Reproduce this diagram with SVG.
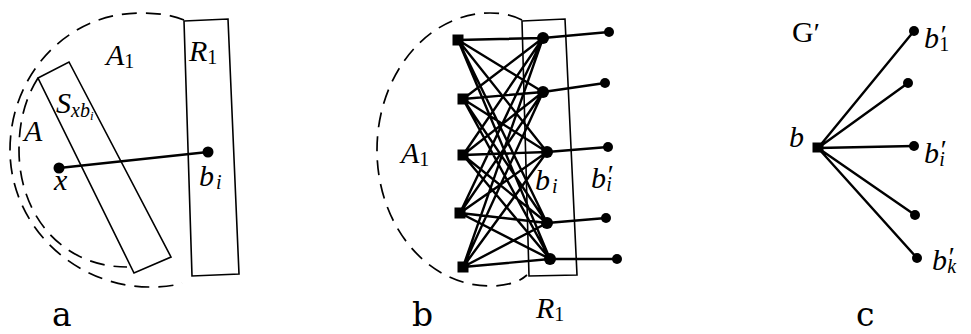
<svg xmlns="http://www.w3.org/2000/svg" width="971" height="334" viewBox="0 0 971 334">
<style>
.dash{fill:none;stroke:#000;stroke-width:1.7;stroke-dasharray:15 9}
.box{fill:none;stroke:#000;stroke-width:1.6}
.e{stroke:#000;stroke-width:2.4;fill:none}
.dot{fill:#000}
.m{font-family:"Liberation Serif",serif;font-style:italic;font-size:30px;fill:#000}
.up{font-style:normal}
.sub{font-size:20px}
.pr{font-size:28px}
.lab{font-family:"DejaVu Serif","Liberation Serif",serif;font-size:33px;fill:#000}
</style>
<rect width="971" height="334" fill="#fff"/>
<!-- panel a -->
<g id="panel-a">
<path class="dash" d="M184,20 C172,15 157,13 140,13 C68,13 10,74 10,150 C10,226 75,287 150,287 C163,287 173,286 182,283"/>
<path class="dash" d="M38,78 C26,97 19,120 19,150 C19,215 62,267 127,267"/>
<polygon id="S" class="box" points="38,78 69,62 171,257 134,273"/>
<polygon id="R1a" class="box" points="184,21 228,19 239,274 192,276"/>
<g id="conn-a"><line class="e" x1="59" y1="168" x2="208" y2="152"/></g>
<g id="node-x"><circle class="dot" cx="59" cy="168" r="5.5"/><text class="m" x="54" y="190">x</text></g>
<g id="node-bi-a"><circle class="dot" cx="208" cy="152" r="5.5"/><text class="m" x="199" y="186">b<tspan class="sub" dx="2" dy="3">i</tspan></text></g>
<text class="m" x="106" y="65">A<tspan class="sub up" dy="3">1</tspan></text>
<text class="m" x="24" y="141">A</text>
<text class="m" x="56" y="113">S<tspan class="sub" dy="4">xb</tspan><tspan font-size="13px" dy="3">i</tspan></text>
<text class="m" x="189" y="61">R<tspan class="sub up" dy="3">1</tspan></text>
<text class="lab" x="52" y="326">a</text>
</g>
<!-- panel b -->
<g id="panel-b">
<path class="dash" d="M522,20 C512,15 502,13 490,13 C428,13 377,74 377,150 C377,226 428,286 490,286 C505,286 518,283 527,275"/>
<polygon id="R1b" class="box" points="522,21 565,19 577,275 529,276"/>
<g id="connectors-b">
<path class="e" d="M458,40L543,38M458,40L543,92M458,40L547,152M458,40L547,223M458,40L550,259
M463,99L543,38M463,99L543,92M463,99L547,152M463,99L547,223M463,99L550,259
M463,155L543,38M463,155L543,92M463,155L547,152M463,155L547,223M463,155L550,259
M460,213L543,38M460,213L543,92M460,213L547,152M460,213L547,223M460,213L550,259
M463,267L543,38M463,267L543,92M463,267L547,152M463,267L547,223M463,267L550,259
M543,38L609,32M543,92L605,83M547,152L608,147M547,223L606,218M550,259L617,259"/>
</g>
<g id="a1"><rect class="dot" x="452.5" y="34.5" width="11" height="11"/></g>
<g id="a2"><rect class="dot" x="457.5" y="93.5" width="11" height="11"/></g>
<g id="a3"><rect class="dot" x="457.5" y="149.5" width="11" height="11"/></g>
<g id="a4"><rect class="dot" x="454.5" y="207.5" width="11" height="11"/></g>
<g id="a5"><rect class="dot" x="457.5" y="261.5" width="11" height="11"/></g>
<g id="b1"><circle class="dot" cx="543" cy="38" r="6"/></g>
<g id="b2"><circle class="dot" cx="543" cy="92" r="6"/></g>
<g id="b3"><circle class="dot" cx="547" cy="152" r="6"/></g>
<g id="b4"><circle class="dot" cx="547" cy="223" r="6"/></g>
<g id="b5"><circle class="dot" cx="550" cy="259" r="6"/></g>
<g id="c1"><circle class="dot" cx="609" cy="32" r="5"/></g>
<g id="c2"><circle class="dot" cx="605" cy="83" r="5"/></g>
<g id="c3"><circle class="dot" cx="608" cy="147" r="5"/></g>
<g id="c4"><circle class="dot" cx="606" cy="218" r="5"/></g>
<g id="c5"><circle class="dot" cx="617" cy="259" r="5"/></g>
<text class="m" x="401" y="163">A<tspan class="sub up" dy="3">1</tspan></text>
<text class="m" x="535" y="190">b<tspan class="sub" dx="2" dy="3">i</tspan></text>
<text class="m" x="591" y="188">b<tspan class="pr" dy="-4">′</tspan><tspan class="sub" dx="-6" dy="7">i</tspan></text>
<text class="m" x="536" y="318">R<tspan class="sub up" dy="3">1</tspan></text>
<text class="lab" x="412" y="326">b</text>
</g>
<!-- panel c -->
<g id="panel-c">
<g id="connectors-c">
<path class="e" d="M818,148L914,31M818,148L908,83M818,148L914,146M818,148L915,215M818,148L917,258"/>
</g>
<g id="node-b"><rect class="dot" x="812.5" y="142.5" width="11" height="10"/><text class="m" x="789" y="147">b</text></g>
<g id="node-b1"><circle class="dot" cx="914" cy="31" r="5"/><text class="m" x="924" y="48">b<tspan class="pr" dy="-4">′</tspan><tspan class="sub up" dx="-6" dy="7">1</tspan></text></g>
<g id="node-b2"><circle class="dot" cx="908" cy="83" r="5"/></g>
<g id="node-bi"><circle class="dot" cx="914" cy="146" r="5"/><text class="m" x="924" y="163">b<tspan class="pr" dy="-4">′</tspan><tspan class="sub" dx="-6" dy="7">i</tspan></text></g>
<g id="node-b4"><circle class="dot" cx="915" cy="215" r="5"/></g>
<g id="node-bk"><circle class="dot" cx="917" cy="258" r="5"/><text class="m" x="932" y="270">b<tspan class="pr" dy="-4">′</tspan><tspan class="sub" dx="-6" dy="7">k</tspan></text></g>
<text class="m up" x="792" y="42">G<tspan class="pr">′</tspan></text>
<text class="lab" x="856" y="326">c</text>
</g>
</svg>
